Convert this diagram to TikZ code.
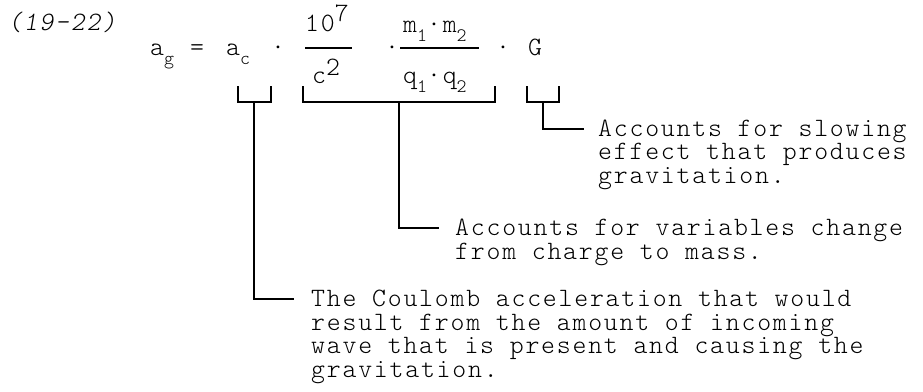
\documentclass[tikz,border=0pt]{standalone}
\usepackage{fontspec}
\newfontfamily\cour{lmmonolt10-regular.otf}[LetterSpace=6.7]
\newfontfamily\courit{lmmonolt10-oblique.otf}[LetterSpace=6.7]
\newcommand\mysub[1]{\raisebox{-9pt}{\fontsize{19}{19}\selectfont #1}}
\newcommand\mysupr[1]{\raisebox{10pt}{#1}}
\begin{document}
\begin{tikzpicture}[x=1pt,y=-1pt,
  txt/.style={font=\cour\fontsize{26.5}{23.6}\selectfont, inner sep=0pt, anchor=base west},
  blk/.style={txt, align=left},
  lead/.style={line width=2pt, line join=miter, line cap=rect},
  fbar/.style={line width=2pt}
]
\useasboundingbox (0,0) rectangle (923,391);

% equation number
\node[txt, font=\courit\fontsize{26.5}{23.6}\selectfont] (eqno) at (8,30) {(19-22)};

% left side
\node[txt] (ag) at (150,55) {a\mysub{g}};
\node[txt] (eq) at (190,55) {=};
\node[txt] (ac) at (226,55) {a\mysub{c}};
\node[txt] (dot1) at (271,55) {·};

% 10^7 / c^2
\node[txt] (num1) at (305,31) {10\mysupr{7}};
\draw[fbar] (305,48) -- (352,48);
\node[txt] (den1) at (312,83) {c\raisebox{8pt}{2}};
\node[txt] (dot2) at (385,55) {·};

% m1 m2 / q1 q2
\node[txt] (num2) at (403,32) {m\mysub{1}·m\mysub{2}};
\draw[fbar] (400,48) -- (479,48);
\node[txt] (den2) at (403,83) {q\mysub{1}·q\mysub{2}};
\node[txt] (dot3) at (496,55) {·};
\node[txt] (G) at (528,55) {G};

% explanation texts (anchored at the baseline of their last line)
\node[blk] (t3) at (598,183.2) {Accounts for slowing\\effect that produces\\gravitation.};
\node[blk] (t2) at (455,259.1) {Accounts for variables change\\from charge to mass.};
\node[blk] (t1) at (311,377.3) {The Coulomb acceleration that would\\result from the amount of incoming\\wave that is present and causing the\\gravitation.};

% brackets
\coordinate (b1l) at (238,87); \coordinate (b1r) at (271,87); \coordinate (b1m) at (254,102);
\coordinate (b2l) at (303,87); \coordinate (b2r) at (495,87); \coordinate (b2m) at (399,102);
\coordinate (b3l) at (527,87); \coordinate (b3r) at (559,87); \coordinate (b3m) at (543,102);

\draw[lead] (b1l) |- (b1m) -| (b1r);
\draw[lead] (b2l) |- (b2m) -| (b2r);
\draw[lead] (b3l) |- (b3m) -| (b3r);

% leaders (to the middle of each block's first line)
\coordinate (e1) at ([xshift=-18pt,yshift=78.3pt]t1.base west);
\coordinate (e2) at ([xshift=-17pt,yshift=31.1pt]t2.base west);
\coordinate (e3) at ([xshift=-15pt,yshift=54.7pt]t3.base west);
\draw[lead] (b1m) |- (e1);
\draw[lead] (b2m) |- (e2);
\draw[lead] (b3m) |- (e3);
\end{tikzpicture}
\end{document}
